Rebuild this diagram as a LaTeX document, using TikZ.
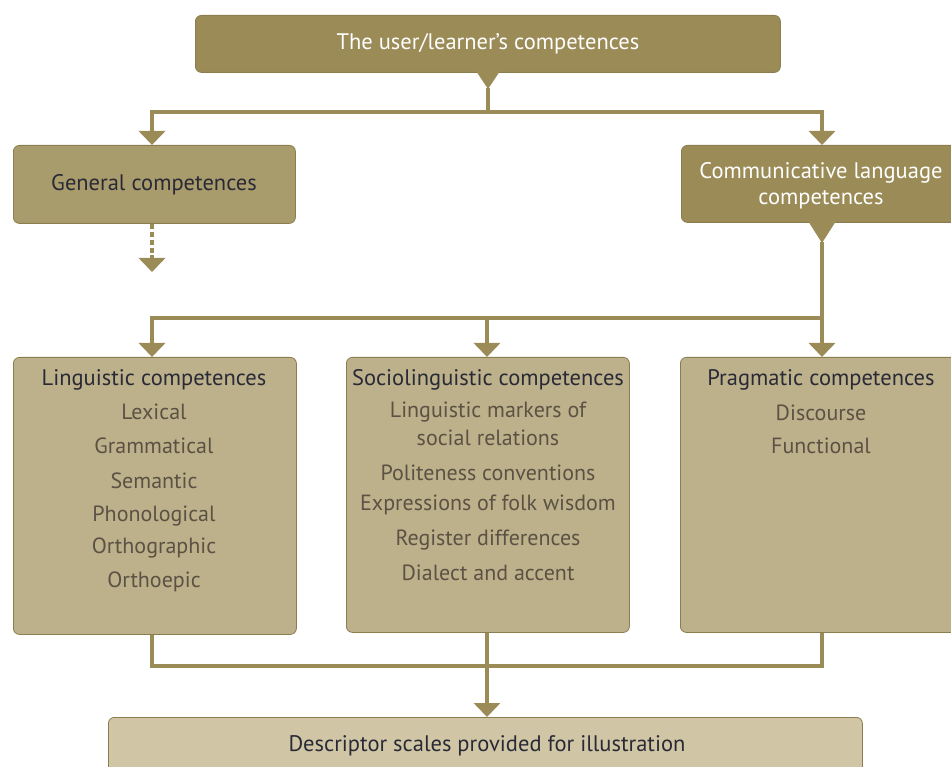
\documentclass[tikz,border=0pt]{standalone}
\usepackage{fontspec}
\setmainfont{PT Sans}
\usetikzlibrary{arrows.meta}
\definecolor{olivedark}{HTML}{9B8B57}
\definecolor{olivemid}{HTML}{A89B6C}
\definecolor{olivelight}{HTML}{BDB18B}
\definecolor{olivepale}{HTML}{D0C6A6}
\definecolor{headtext}{HTML}{2A2A36}
\definecolor{itemtext}{HTML}{5B5244}
\tikzset{
  x=1pt,y=-1pt,
  boxbase/.style={rounded corners=6pt, anchor=north west, inner sep=0pt, draw=olivedark!90!black, line width=0.8pt},
  darkbox/.style={boxbase, fill=olivedark},
  midbox/.style={boxbase, fill=olivemid},
  lightbox/.style={boxbase, fill=olivelight},
  palebox/.style={boxbase, fill=olivepale},
  conn/.style={draw=olivedark, line width=4pt},
  arr/.style={conn, -{Triangle[width=26pt,length=14pt]}},
  whitetxt/.style={text=white, font=\fontsize{22.5}{26}\selectfont, align=center, inner sep=0pt},
  headtxt/.style={text=headtext, font=\fontsize{22.5}{26}\selectfont, inner sep=0pt},
  itemtxt/.style={text=itemtext, font=\fontsize{22}{26}\selectfont, inner sep=0pt},
  pointer/.style={fill=olivedark, draw=none},
}
\begin{document}
\begin{tikzpicture}
\useasboundingbox (0,0) rectangle (951,767);
\clip (0,0) rectangle (951,767);
% boxes
\node[darkbox, minimum width=585pt, minimum height=57pt] (top) at (195,15) {};
\node[whitetxt] (toptxt) at (488,44) {The user/learner’s competences};
\node[midbox, minimum width=282pt, minimum height=78pt] (gen) at (13,145) {};
\node[headtxt] (gentxt) at (154,185) {General competences};
\node[darkbox, minimum width=290pt, minimum height=77pt] (comm) at (681,145) {};
\node[whitetxt] (commtxt) at (821,186) {Communicative language\\competences};
\node[lightbox, minimum width=283pt, minimum height=277pt] (ling) at (13,357) {};
\node[lightbox, minimum width=283pt, minimum height=275pt] (soc) at (346,357) {};
\node[lightbox, minimum width=290pt, minimum height=275pt] (prag) at (680,357) {};
\node[palebox, minimum width=754pt, minimum height=70pt] (desc) at (108,717) {};
\node[headtxt] (desctxt) at (487,746) {Descriptor scales provided for illustration};
% linguistic text
\node[headtxt] (lh) at (154,380) {Linguistic competences};
\node[itemtxt] (l1) at (154,412) {Lexical};
\node[itemtxt] (l2) at (154,446) {Grammatical};
\node[itemtxt] (l3) at (154,481) {Semantic};
\node[itemtxt] (l4) at (154,516) {Phonological};
\node[itemtxt] (l5) at (154,548) {Orthographic};
\node[itemtxt] (l6) at (154,582) {Orthoepic};
% sociolinguistic text
\node[headtxt] (sh) at (488,380) {Sociolinguistic competences};
\node[itemtxt] (s1) at (488,412) {Linguistic markers of};
\node[itemtxt] (s1b) at (488,438) {social relations};
\node[itemtxt] (s2) at (488,473) {Politeness conventions};
\node[itemtxt] (s3) at (488,505) {Expressions of folk wisdom};
\node[itemtxt] (s4) at (488,540) {Register differences};
\node[itemtxt] (s5) at (488,573) {Dialect and accent};
% pragmatic text
\node[headtxt] (ph) at (821,380) {Pragmatic competences};
\node[itemtxt] (p1) at (821,413) {Discourse};
\node[itemtxt] (p2) at (821,446) {Functional};
% pointers
\fill[pointer] (476,71) -- (500,71) -- (488,89) -- cycle;
\fill[pointer] (808,221) -- (836,221) -- (822,243) -- cycle;
% coordinates
\coordinate (j1) at (488,112);
\coordinate (j1l) at (152,112);
\coordinate (j1r) at (822,112);
\coordinate (j2) at (822,318);
\coordinate (j2l) at (152,318);
\coordinate (j2m) at (487,318);
\coordinate (j3l) at (152,668);
\coordinate (j3r) at (822,668);
\coordinate (j3m) at (487,668);
\coordinate (gdash) at (152,272);
% connectors
\draw[conn] (488,88) -- (j1);
\draw[conn] ([xshift=-2pt]j1l) -- ([xshift=2pt]j1r);
\draw[arr] (j1l) -- (j1l |- gen.north);
\draw[arr] (j1r) -- (j1r |- comm.north);
\draw[conn, dash pattern=on 5pt off 3pt, line width=3.5pt] (j1l |- gen.south) -- (152,258);
\draw[arr] (152,255) -- (gdash);
\draw[conn] (822,242) -- (j2);
\draw[conn] ([xshift=2pt]j2) -- ([xshift=-2pt]j2l);
\draw[arr] (j2l) -- (j2l |- ling.north);
\draw[arr] (j2m) -- (j2m |- soc.north);
\draw[arr] (j2) -- (j2 |- prag.north);
\draw[conn] (j3l |- ling.south) -- ([yshift=2pt]j3l) -- ([yshift=2pt]j3r) -- (j3r |- prag.south);
\draw[arr] (j3m |- soc.south) -- (j3m |- desc.north);
\end{tikzpicture}
\end{document}
